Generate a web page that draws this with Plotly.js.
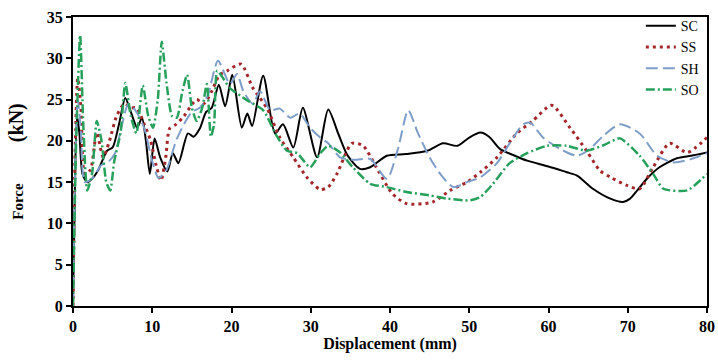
<!DOCTYPE html>
<html>
<head>
<meta charset="utf-8">
<script src="https://cdn.plot.ly/plotly-3.0.1.min.js"></script>
<style>html,body{margin:0;padding:0;background:#fff;}#chart{width:718px;height:360px;}</style>
</head>
<body>
<div id="chart"></div>
<script>
// Series names
var seriesNames = ["SC", "SS", "SH", "SO"];

// SC (black solid)
var scX = [0,0.2,0.5,0.8,1.2,1.8,2.5,3.2,4.3,5.0,5.8,6.6,7.3,8.1,8.7,9.2,9.7,10.3,11.0,11.9,12.6,13.3,14.5,15.2,16.0,16.8,17.5,18.4,19.2,20.1,21.3,22.0,22.6,24.0,25.5,26.5,27.8,29.0,30.8,32.2,33.5,34.6,36.2,37.5,39.6,42.0,44.7,46.7,48.5,50.0,51.4,52.5,53.9,55.5,57.3,60.0,62.3,63.6,65.6,67.8,69.4,70.3,71.2,72.5,74.0,76.2,78.0,80.0];
var scY = [0,12,23,21,16,15,15.5,16.5,18.8,19.2,22,25.2,23.5,21.6,22.8,20,16,20.3,18,16.3,18.5,17.3,20.9,20.5,21.5,23.5,24,26.8,24.2,28,21.6,23.3,21.8,27.9,20.9,22,19.2,24,18,23.8,20.8,18.3,16.6,16.8,18.2,18.4,18.8,19.7,19.4,20.4,21,20.5,19,18.3,17.6,16.9,16.2,15.8,14.2,13,12.6,13,14,15.5,16.8,17.9,18.2,18.6];

// SS (dark red dotted)
var ssX = [0,0.3,0.6,1.0,1.5,2.2,3.0,3.8,4.6,5.5,6.5,7.3,8.0,9.0,9.8,10.5,11.1,11.7,12.2,13.0,14.0,15.6,16.5,17.5,18.5,19.5,21.2,22.7,24.5,26.1,27.8,29.5,31.2,32.2,33.3,35.2,36.6,38.5,40.3,42.1,45.4,47.6,49.7,51.4,53.5,56.0,58.0,60.4,62.7,64.8,66.5,67.8,69.9,71.5,73.2,75.3,77.5,80.0];
var ssY = [0,20,27.6,24,16,16.5,21,18,20,23,24.5,24,24,22,20,17,15.2,18,21.5,22,23,25,24.5,26,28,28.5,29.3,26.4,23.9,20.4,18,15.6,14.1,14.4,16,19.7,19.4,16.4,13.6,12.4,12.6,14,15,16.2,18,20.9,22.4,24.3,21.6,18.8,16.4,15.6,14.6,14.2,16.8,19.7,18.6,20.4];

// SH (blue-grey dashed)
var shX = [0,0.3,0.6,1.0,1.5,2.5,3.5,4.5,5.3,6.2,7.0,8.0,9.0,10.0,10.8,11.8,13.0,14.0,15.0,16.0,17.0,18.3,19.8,20.7,21.5,22.7,23.6,24.9,26.1,27.4,28.6,29.9,31.2,32.2,33.7,35.5,37.5,39.6,41.0,42.3,43.5,45.0,46.5,48.0,49.7,51.4,53.5,55.1,56.8,57.7,59.3,61.5,63.6,65.2,66.9,69.0,71.5,73.7,75.7,78.0,80.0];
var shY = [0,18,25,21,15,15.5,17,17.5,18.5,22,24.5,23.5,21.5,17.5,15.5,16.5,20,22,23.5,24,25.5,29.7,26.9,28.1,26,24.5,26,23.7,23.9,22.8,23.3,21.6,20.4,19.7,18,17.7,17.8,15.4,19,23.7,21,18,15.8,14.4,15,15.6,17.3,19.7,22,22.2,20.4,19,18.2,19,20.6,22,20.9,18.2,17.4,17.8,18.5];

// SO (green dash-dot)
var soX = [0,0.4,0.9,1.3,1.8,2.4,3.0,3.6,4.2,4.7,5.2,6.0,6.6,7.3,8.0,8.8,9.5,10.1,10.7,11.2,11.8,12.5,13.1,13.8,14.4,15.0,15.6,16.3,16.9,17.4,17.8,18.2,19.0,19.8,22.0,24.0,25.7,27.0,28.3,29.9,31.2,32.2,33.7,35.3,37.5,39.6,42.1,45.0,47.2,50.1,51.4,53.0,55.1,57.3,59.8,62.3,64.8,67.0,69.0,71.5,73.2,74.5,77.5,80.0];
var soY = [0,20,32.8,22,14,16,22.4,20,15,14,17.5,21,27,23,20.9,26.7,23,21.6,25,32,27,23,22.8,26,28,24,22.4,24,26.9,20.5,22,28.5,27.5,26.4,24.9,23.7,20.6,18.8,18.5,16.8,18.5,19.4,18.6,16.8,14.8,14.4,13.8,13.4,13,12.8,13.2,14.8,17.3,18.5,19.4,19.4,18.8,19.5,20.3,18.2,16,14.2,14,16];

// Axis ticks
var xTicks = [0,10,20,30,40,50,60,70,80];
var yTicks = [0,5,10,15,20,25,30,35];

var serif = "Liberation Serif";

var traces = [
  {x: scX, y: scY, name: seriesNames[0], mode: "lines", line: {color: "#000000", width: 2, shape: "spline", smoothing: 0.7}},
  {x: ssX, y: ssY, name: seriesNames[1], mode: "lines", line: {color: "#a3262a", width: 3, dash: "3px,4px", shape: "spline", smoothing: 0.7}},
  {x: shX, y: shY, name: seriesNames[2], mode: "lines", line: {color: "#7e9ec8", width: 2, dash: "12px,5px", shape: "spline", smoothing: 0.7}},
  {x: soX, y: soY, name: seriesNames[3], mode: "lines", line: {color: "#27a05c", width: 2.5, dash: "9px,3px,2px,3px", shape: "spline", smoothing: 0.6}}
];

var layout = {
  width: 718, height: 360,
  margin: {l: 73, r: 11, t: 16, b: 54},
  paper_bgcolor: "#ffffff", plot_bgcolor: "#ffffff",
  showlegend: true,
  legend: {x: 0.995, y: 1.02, xanchor: "right", yanchor: "top", bgcolor: "rgba(0,0,0,0)",
           font: {family: serif, size: 14, color: "#000"}, itemwidth: 30, tracegroupgap: 0},
  xaxis: {
    range: [0, 80], tickvals: xTicks, ticks: "outside", ticklen: 5, tickwidth: 2, tickcolor: "#000",
    showline: true, linewidth: 2, linecolor: "#000", mirror: true, showgrid: false, zeroline: false,
    tickfont: {family: serif, size: 16, color: "#000", weight: "bold"},
    title: {text: "Displacement (mm)", font: {family: serif, size: 16, color: "#000", weight: "bold"}, standoff: 2}
  },
  yaxis: {
    range: [0, 35], tickvals: yTicks, ticks: "outside", ticklen: 5, tickwidth: 2, tickcolor: "#000",
    showline: true, linewidth: 2, linecolor: "#000", mirror: true, showgrid: false, zeroline: false,
    tickfont: {family: serif, size: 16, color: "#000", weight: "bold"},
    title: {text: "Force" + "\u00a0".repeat(11) + "<span style=\"font-size:20px\">(kN)</span>",
            font: {family: serif, size: 15, color: "#000", weight: "bold"}, standoff: 20}
  }
};

Plotly.newPlot("chart", traces, layout, {displayModeBar: false, staticPlot: true});
</script>
</body>
</html>
